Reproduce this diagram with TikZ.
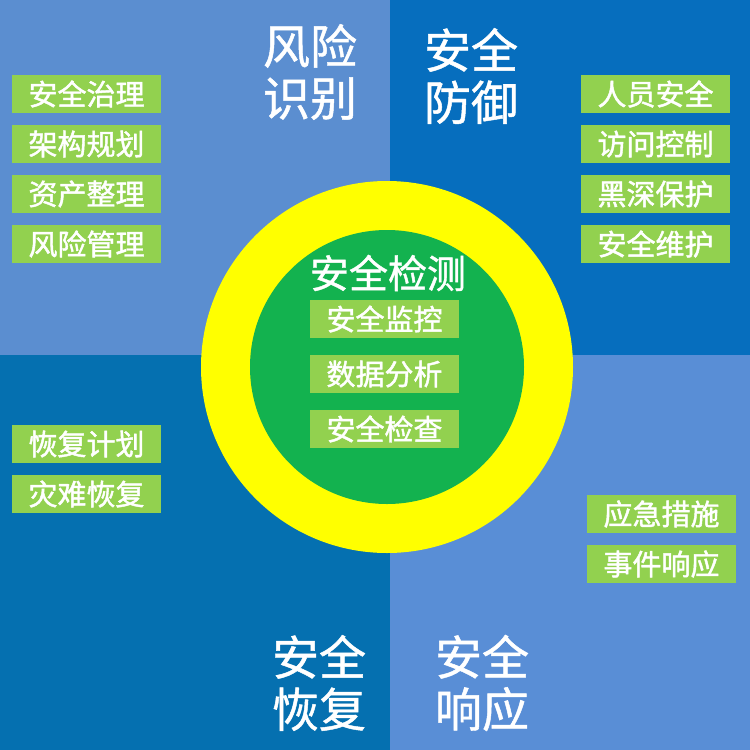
\documentclass[tikz,border=0pt]{standalone}
\usepackage{fontspec}
\setmainfont{Noto Sans CJK SC}
\newfontfamily\tagfont{Noto Sans CJK SC}[FakeBold=1.5]
\newfontfamily\titfont{Noto Sans CJK SC}[FakeBold=1.0]
\definecolor{qTL}{HTML}{5B8ED0}
\definecolor{qTR}{HTML}{066EBE}
\definecolor{qBL}{HTML}{0570B0}
\definecolor{qBR}{HTML}{598ED6}
\definecolor{ringY}{HTML}{FFFF00}
\definecolor{coreG}{HTML}{13B24F}
\definecolor{tagG}{HTML}{92D14F}
\tikzset{
  tagbox/.style={fill=tagG, text=white, minimum width=149pt, minimum height=38pt, inner sep=0pt, font=\tagfont\fontsize{29}{30}\selectfont},
  bigtitle/.style={text=white, align=center, inner sep=0pt, font=\titfont\fontsize{47}{52}\selectfont},
  coretitle/.style={text=white, inner sep=0pt, font=\titfont\fontsize{39}{40}\selectfont}
}
\begin{document}
\begin{tikzpicture}[x=1pt,y=-1pt]
\useasboundingbox (0,0) rectangle (750,750);
% quadrants
\fill[qTL] (0,0) rectangle (390,355);
\fill[qTR] (390,0) rectangle (750,355);
\fill[qBL] (0,355) rectangle (390,750);
\fill[qBR] (390,355) rectangle (750,750);
% rings
\node[circle, fill=ringY, minimum size=372pt, inner sep=0pt] (ring) at (387,367) {};
\node[circle, fill=coreG, minimum size=274pt, inner sep=0pt] (core) at (387,367) {};
% titles
\node[bigtitle] (t1) at (310,72) {风险\\识别};
\node[bigtitle] (t2) at (471,76) {安全\\防御};
\node[bigtitle] (t3) at (319,683) {安全\\恢复};
\node[bigtitle] (t4) at (482,683) {安全\\响应};
\node[coretitle] (t5) at (388,273) {安全检测};
% left top tags
\node[tagbox] (a1) at (86.5,94) {安全治理};
\node[tagbox] (a2) at (86.5,144) {架构规划};
\node[tagbox] (a3) at (86.5,194) {资产整理};
\node[tagbox] (a4) at (86.5,244) {风险管理};
% right top tags
\node[tagbox] (b1) at (655.5,94) {人员安全};
\node[tagbox] (b2) at (655.5,144) {访问控制};
\node[tagbox] (b3) at (655.5,194) {黑深保护};
\node[tagbox] (b4) at (655.5,244) {安全维护};
% core tags
\node[tagbox] (c1) at (384.5,319) {安全监控};
\node[tagbox] (c2) at (384.5,374) {数据分析};
\node[tagbox] (c3) at (384.5,429) {安全检查};
% bottom left tags
\node[tagbox] (d1) at (86.5,444) {恢复计划};
\node[tagbox] (d2) at (86.5,494) {灾难恢复};
% bottom right tags
\node[tagbox] (e1) at (661.5,514) {应急措施};
\node[tagbox] (e2) at (661.5,564) {事件响应};
\end{tikzpicture}
\end{document}
